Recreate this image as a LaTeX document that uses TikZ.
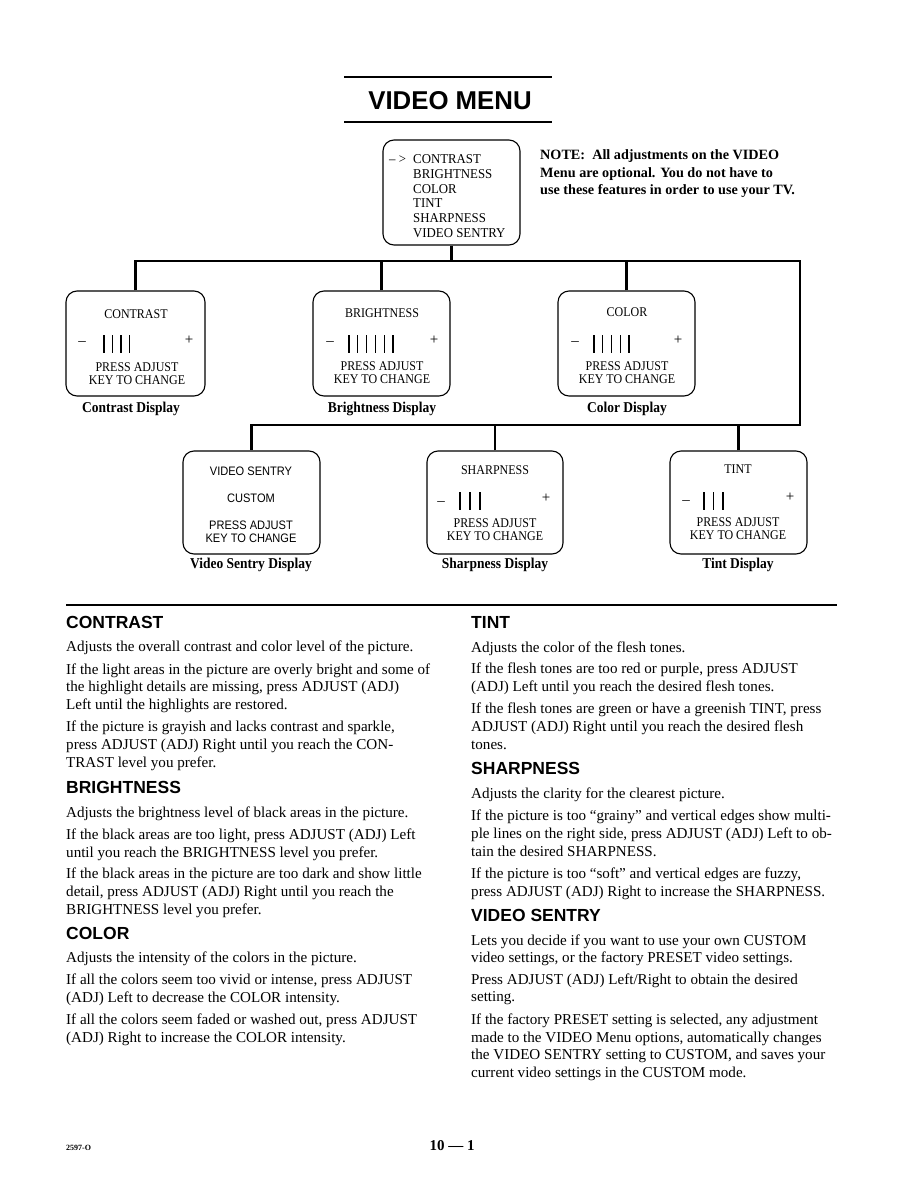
\documentclass[tikz,border=0pt]{standalone}
\usepackage{fontspec}
\setmainfont{Liberation Serif}
\newfontfamily\cserif[FakeStretch=0.9]{Liberation Serif}
\newfontfamily\mserif[FakeStretch=0.95]{Liberation Serif}
\newfontfamily\csans[FakeStretch=0.9]{Liberation Sans}
\newfontfamily\hsans{Liberation Sans}
\begin{document}
\begin{tikzpicture}[x=1pt,y=-1pt,
  bus/.style={line width=2.6pt},
  rule/.style={line width=1.8pt},
  dbox/.style={draw, line width=1.1pt, rounded corners=11pt, inner sep=0pt},
  bt/.style={anchor=base west, inner sep=0pt, font=\fontsize{15.1}{18}\selectfont},
  hd/.style={anchor=base west, inner sep=0pt, font=\hsans\bfseries\fontsize{17.5}{20}\selectfont},
  mt/.style={anchor=base west, inner sep=0pt, font=\mserif\fontsize{13.5}{15}\selectfont},
  nt/.style={anchor=base west, inner sep=0pt, font=\bfseries\fontsize{14.2}{17}\selectfont},
  bx/.style={anchor=base, inner sep=0pt, font=\cserif\fontsize{13.3}{15}\selectfont},
  bxs/.style={anchor=base, inner sep=0pt, font=\csans\fontsize{12.3}{14}\selectfont},
  pm/.style={anchor=base, inner sep=0pt, font=\fontsize{15}{17}\selectfont},
  capt/.style={anchor=base, inner sep=0pt, font=\cserif\bfseries\fontsize{15}{17}\selectfont},
  bar/.style={line width=1.2pt}
]
\useasboundingbox[fill=white] (0,0) rectangle (918,1188);

% title
\coordinate (r1a) at (344,77); \coordinate (r1b) at (552,77);
\coordinate (r2a) at (344,122); \coordinate (r2b) at (552,122);
\draw[rule] (r1a) -- (r1b);
\draw[rule] (r2a) -- (r2b);
\node[anchor=base, inner sep=0pt, font=\hsans\bfseries\fontsize{25.8}{28}\selectfont] (title) at (450,110) {VIDEO MENU};

% menu box
\node[dbox, minimum width=137pt, minimum height=105pt] (menu) at (451.5,192.5) {};
\node[mt] (marrow) at (389,164) {– >};
\node[mt] (m1) at (413,164) {CONTRAST};
\node[mt] (m2) at (413,178.6) {BRIGHTNESS};
\node[mt] (m3) at (413,193.2) {COLOR};
\node[mt] (m4) at (413,207.8) {TINT};
\node[mt] (m5) at (413,222.4) {SHARPNESS};
\node[mt] (m6) at (413,237) {VIDEO SENTRY};

% note
\node[nt] (n1) at (540,160) {NOTE:\ \ All adjustments on the VIDEO};
\node[nt] (n2) at (540,177) {Menu are optional. You do not have to};
\node[nt] (n3) at (540,194) {use these features in order to use your TV.};

% display boxes
\node[dbox, minimum width=139pt, minimum height=105pt] (cbox) at (135.5,343.5) {};
\node[dbox, minimum width=137pt, minimum height=105pt] (bbox) at (381.5,343.5) {};
\node[dbox, minimum width=137pt, minimum height=105pt] (kbox) at (626.5,343.5) {};
\node[dbox, minimum width=137pt, minimum height=103pt] (vbox) at (251.5,502.5) {};
\node[dbox, minimum width=136pt, minimum height=103pt] (sbox) at (495,502.5) {};
\node[dbox, minimum width=137pt, minimum height=103pt] (tbox) at (738.5,502.5) {};

% connectors
\coordinate (busR) at (800,261);
\coordinate (busR2) at (800,425);
\draw[bus] (menu.south) -- (menu.south |- busR);
\draw[bus] (cbox.north) |- (busR) -- (busR2) -| (vbox.north);
\draw[bus] (bbox.north) -- (bbox.north |- busR);
\draw[bus] (kbox.north) -- (kbox.north |- busR);
\draw[bus] (sbox.north) -- (sbox.north |- busR2);
\draw[bus] (tbox.north) -- (tbox.north |- busR2);

% contrast box contents
\node[bx] (ct) at (136,318) {CONTRAST};
\node[pm] (cm) at (82,345) {–};
\foreach \i in {0,...,3} \draw[bar] (104+8.5*\i,335) -- (104+8.5*\i,353);
\node[pm] (cp) at (189,344) {+};
\node[bx] (cpa) at (137,371) {PRESS ADJUST};
\node[bx] (cka) at (137,384) {KEY TO CHANGE};
\node[capt] (cc) at (131,412) {Contrast Display};

% brightness box contents
\node[bx] (bt1) at (382,317) {BRIGHTNESS};
\node[pm] (bm) at (330,345) {–};
\foreach \i in {0,...,5} \draw[bar] (349+8.8*\i,335) -- (349+8.8*\i,353);
\node[pm] (bp) at (434,344) {+};
\node[bx] (bpa) at (382,370) {PRESS ADJUST};
\node[bx] (bka) at (382,383) {KEY TO CHANGE};
\node[capt] (bc) at (382,412) {Brightness Display};

% color box contents
\node[bx] (kt) at (627,316) {COLOR};
\node[pm] (km) at (575,345) {–};
\foreach \i in {0,...,4} \draw[bar] (594+8.75*\i,335) -- (594+8.75*\i,353);
\node[pm] (kp) at (678,344) {+};
\node[bx] (kpa) at (627,370) {PRESS ADJUST};
\node[bx] (kka) at (627,383) {KEY TO CHANGE};
\node[capt] (kc) at (627,412) {Color Display};

% video sentry box contents
\node[bxs] (vt) at (251,475) {VIDEO SENTRY};
\node[bxs] (vcu) at (251,502) {CUSTOM};
\node[bxs] (vpa) at (251,529) {PRESS ADJUST};
\node[bxs] (vka) at (251,542) {KEY TO CHANGE};
\node[capt] (vc) at (251,568) {Video Sentry Display};

% sharpness box contents
\node[bx] (st) at (495,474) {SHARPNESS};
\node[pm] (sm) at (441,505) {–};
\foreach \i in {0,...,2} \draw[bar] (460+10*\i,492) -- (460+10*\i,510);
\node[pm] (sp) at (546,502) {+};
\node[bx] (spa) at (495,527) {PRESS ADJUST};
\node[bx] (ska) at (495,540) {KEY TO CHANGE};
\node[capt] (sc) at (495,568) {Sharpness Display};

% tint box contents
\node[bx] (tt) at (738,473) {TINT};
\node[pm] (tm) at (686,504) {–};
\foreach \i in {0,...,2} \draw[bar] (704+9.5*\i,492) -- (704+9.5*\i,510);
\node[pm] (tp) at (790,501) {+};
\node[bx] (tpa) at (738,526) {PRESS ADJUST};
\node[bx] (tka) at (738,539) {KEY TO CHANGE};
\node[capt] (tc) at (738,568) {Tint Display};

% separator
\coordinate (sepa) at (66,605); \coordinate (sepb) at (837,605);
\draw[line width=1.5pt] (sepa) -- (sepb);

% left column
\node[hd] (h1) at (66,628) {CONTRAST};
\node[bt] (a1) at (66,651) {Adjusts the overall contrast and color level of the picture.};
\node[bt] (a2) at (66,674) {If the light areas in the picture are overly bright and some of};
\node[bt] (a3) at (66,691) {the highlight details are missing, press ADJUST (ADJ)};
\node[bt] (a4) at (66,709) {Left until the highlights are restored.};
\node[bt] (a5) at (66,731) {If the picture is grayish and lacks contrast and sparkle,};
\node[bt] (a6) at (66,749) {press ADJUST (ADJ) Right until you reach the CON-};
\node[bt] (a7) at (66,767) {TRAST level you prefer.};
\node[hd] (h2) at (66,793) {BRIGHTNESS};
\node[bt] (a8) at (66,817) {Adjusts the brightness level of black areas in the picture.};
\node[bt] (a9) at (66,839) {If the black areas are too light, press ADJUST (ADJ) Left};
\node[bt] (a10) at (66,857) {until you reach the BRIGHTNESS level you prefer.};
\node[bt] (a11) at (66,878) {If the black areas in the picture are too dark and show little};
\node[bt] (a12) at (66,896) {detail, press ADJUST (ADJ) Right until you reach the};
\node[bt] (a13) at (66,914) {BRIGHTNESS level you prefer.};
\node[hd] (h3) at (66,939) {COLOR};
\node[bt] (a14) at (66,962) {Adjusts the intensity of the colors in the picture.};
\node[bt] (a15) at (66,984) {If all the colors seem too vivid or intense, press ADJUST};
\node[bt] (a16) at (66,1002) {(ADJ) Left to decrease the COLOR intensity.};
\node[bt] (a17) at (66,1024) {If all the colors seem faded or washed out, press ADJUST};
\node[bt] (a18) at (66,1042) {(ADJ) Right to increase the COLOR intensity.};

% right column
\node[hd] (h4) at (471,628) {TINT};
\node[bt] (b1) at (471,652) {Adjusts the color of the flesh tones.};
\node[bt] (b2) at (471,673) {If the flesh tones are too red or purple, press ADJUST};
\node[bt] (b3) at (471,691) {(ADJ) Left until you reach the desired flesh tones.};
\node[bt] (b4) at (471,713) {If the flesh tones are green or have a greenish TINT, press};
\node[bt] (b5) at (471,731) {ADJUST (ADJ) Right until you reach the desired flesh};
\node[bt] (b6) at (471,749) {tones.};
\node[hd] (h5) at (471,774) {SHARPNESS};
\node[bt] (b7) at (471,798) {Adjusts the clarity for the clearest picture.};
\node[bt] (b8) at (471,820) {If the picture is too “grainy” and vertical edges show multi-};
\node[bt] (b9) at (471,838) {ple lines on the right side, press ADJUST (ADJ) Left to ob-};
\node[bt] (b10) at (471,856) {tain the desired SHARPNESS.};
\node[bt] (b11) at (471,878) {If the picture is too “soft” and vertical edges are fuzzy,};
\node[bt] (b12) at (471,896) {press ADJUST (ADJ) Right to increase the SHARPNESS.};
\node[hd] (h6) at (471,921) {VIDEO SENTRY};
\node[bt] (b13) at (471,945) {Lets you decide if you want to use your own CUSTOM};
\node[bt] (b14) at (471,962) {video settings, or the factory PRESET video settings.};
\node[bt] (b15) at (471,984) {Press ADJUST (ADJ) Left/Right to obtain the desired};
\node[bt] (b16) at (471,1001) {setting.};
\node[bt] (b17) at (471,1024) {If the factory PRESET setting is selected, any adjustment};
\node[bt] (b18) at (471,1042) {made to the VIDEO Menu options, automatically changes};
\node[bt] (b19) at (471,1059) {the VIDEO SENTRY setting to CUSTOM, and saves your};
\node[bt] (b20) at (471,1077) {current video settings in the CUSTOM mode.};

% footer
\node[anchor=base west, inner sep=0pt, font=\bfseries\fontsize{8}{9}\selectfont] (f1) at (66,1150) {2597-O};
\node[anchor=base, inner sep=0pt, font=\bfseries\fontsize{15}{17}\selectfont] (f2) at (452,1150) {10 — 1};
\end{tikzpicture}
\end{document}
